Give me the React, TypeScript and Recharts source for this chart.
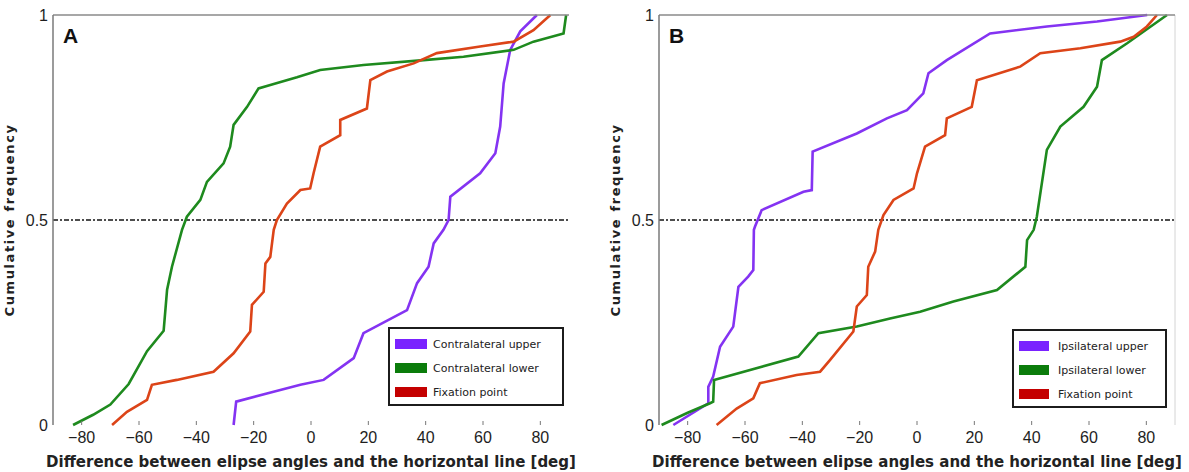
import React from "react";
import { LineChart, Line, XAxis, YAxis, ReferenceLine, Legend } from "recharts";

type Pt = [number, number];

const xTicks = [-80, -60, -40, -20, 0, 20, 40, 60, 80];
const yTicks = [0, 0.5, 1];

// panel A: contralateral stimuli
const contraNames = ["Contralateral upper", "Contralateral lower", "Fixation point"];
const contraUpper: Pt[] = [
  [-27, 0], [-26.1, 0.057], [-15.4, 0.077], [-3.7, 0.098], [4.4, 0.11], [14.9, 0.163],
  [18.3, 0.224], [33.5, 0.28], [37, 0.346], [41, 0.386], [42.8, 0.443], [46.2, 0.476],
  [48, 0.5], [48.6, 0.557], [59, 0.614], [64.3, 0.663], [66, 0.728], [67.2, 0.833],
  [69.5, 0.915], [73, 0.96], [78.8, 1],
];
const contraLower: Pt[] = [
  [-83, 0], [-76, 0.025], [-70, 0.05], [-63.6, 0.1], [-57.2, 0.18], [-51.4, 0.23],
  [-50.2, 0.33], [-48.5, 0.386], [-45, 0.476], [-43.3, 0.508], [-38.6, 0.549],
  [-36.3, 0.593], [-30.5, 0.638], [-28.2, 0.679], [-27, 0.732], [-22.3, 0.776],
  [-18.3, 0.821], [-15.4, 0.827], [-4.9, 0.848], [3.2, 0.866], [18.3, 0.878],
  [39.3, 0.89], [53.2, 0.898], [70.7, 0.915], [77.6, 0.935], [88.1, 0.955], [89, 1],
];
const contraFix: Pt[] = [
  [-69.4, 0], [-64.2, 0.032], [-57.2, 0.061], [-55.5, 0.098], [-46.8, 0.11], [-34, 0.13],
  [-27, 0.175], [-21.2, 0.228], [-20.6, 0.293], [-16.5, 0.325], [-15.9, 0.394],
  [-14.2, 0.41], [-13, 0.476], [-11.9, 0.5], [-8.4, 0.54], [-3.7, 0.573], [-0.3, 0.577],
  [0.9, 0.614], [3.2, 0.679], [10.2, 0.707], [10.2, 0.744], [19.5, 0.772], [20.7, 0.841],
  [26.5, 0.862], [35.8, 0.882], [43.9, 0.907], [59, 0.923], [70.7, 0.935], [77.6, 0.963],
  [83.5, 1],
];

// panel B: ipsilateral stimuli
const ipsiNames = ["Ipsilateral upper", "Ipsilateral lower", "Fixation point"];
const ipsiUpper: Pt[] = [
  [-85, 0], [-72.8, 0.053], [-72.8, 0.093], [-71.1, 0.118], [-68.7, 0.191], [-64.1, 0.24],
  [-62.3, 0.337], [-58.9, 0.362], [-57.1, 0.378], [-56.9, 0.476], [-56.5, 0.484],
  [-54.2, 0.524], [-39.6, 0.569], [-36.7, 0.573], [-36.4, 0.667], [-21, 0.711],
  [-10.5, 0.748], [-3.5, 0.768], [2.2, 0.809], [4, 0.858], [10.4, 0.89], [25.5, 0.955],
  [45.3, 0.972], [62.8, 0.984], [80.3, 1],
];
const ipsiLower: Pt[] = [
  [-89.1, 0], [-80, 0.03], [-72.2, 0.053], [-71.1, 0.057], [-70.8, 0.11], [-41.4, 0.167],
  [-34.4, 0.224], [-21, 0.24], [-9.4, 0.26], [1.1, 0.276], [12.7, 0.301], [27.9, 0.329],
  [37.8, 0.386], [38.4, 0.451], [40.7, 0.476], [41.8, 0.508], [45.3, 0.671], [50, 0.728],
  [58.1, 0.776], [62.8, 0.825], [64.5, 0.89], [73.3, 0.931], [87.2, 1],
];
const ipsiFix: Pt[] = [
  [-69.9, 0], [-62.9, 0.04], [-57.1, 0.065], [-54.8, 0.102], [-42, 0.122], [-33.8, 0.13],
  [-30.3, 0.159], [-22.2, 0.228], [-21, 0.289], [-17.5, 0.317], [-17, 0.386],
  [-14.6, 0.423], [-13.5, 0.476], [-11.7, 0.512], [-8.2, 0.549], [-1.2, 0.577],
  [0, 0.614], [2.8, 0.679], [9.8, 0.707], [10.4, 0.748], [19.1, 0.776], [20.9, 0.841],
  [36, 0.874], [43, 0.907], [57, 0.919], [70.9, 0.935], [75.6, 0.947], [80.2, 0.972],
  [83.7, 1],
];

const lineColors = ["#8433f2", "#1e8a1e", "#dc4418"];
const swatchColors = ["#7a22ff", "#0b7c0b", "#c40000"];

const tickFont = { fontFamily: "Liberation Sans", fontSize: 16, fill: "#1e1e1e" };
const titleFont = "DejaVu Sans";

const toRows = (pts: Pt[]) => pts.map(([x, y]) => ({ x, y }));
const fmtX = (v: number) => String(v).replace("-", "\u2212");

type PanelProps = {
  letter: string;
  names: string[];
  series: Pt[][];
  left: number;
  width: number;
  margin: { top: number; right: number; left: number; bottom: number };
  legendPos: { left: number; top: number; width: number; swatch: number; textGap: number };
  rightBorder?: boolean;
};

const Panel = ({ letter, names, series, left, width, margin, legendPos, rightBorder }: PanelProps) => {
  // legend rows keep the series order, not the sorted payload order
  const legendBox = () => (
    <div
      style={{
        boxSizing: "border-box",
        width: legendPos.width,
        border: "2px solid #1c1c1c",
        background: "#fff",
        padding: "3px 0 0 5px",
        fontFamily: titleFont,
        fontSize: 11,
        color: "#222",
      }}
    >
      {names.map((n, i) => (
        <div key={n} style={{ display: "flex", alignItems: "center", height: 24 }}>
          <span
            style={{
              display: "inline-block",
              width: legendPos.swatch,
              height: 10,
              background: swatchColors[i],
              marginRight: legendPos.textGap,
            }}
          />
          {n}
        </div>
      ))}
    </div>
  );

  return (
    <div style={{ position: "absolute", left, top: 0 }}>
      <LineChart width={width} height={472} margin={margin}>
        <XAxis
          xAxisId="top"
          orientation="top"
          type="number"
          dataKey="x"
          domain={[-90, 90]}
          ticks={xTicks}
          height={1}
          tick={false}
          tickSize={-5}
          stroke="#8a8a8a"
          strokeWidth={1.5}
          label={(p: any) => (
            <text
              x={p.viewBox.x + 10}
              y={p.viewBox.y + p.viewBox.height + 28}
              fontFamily="Liberation Sans"
              fontWeight="bold"
              fontSize={21}
              fill="#111"
            >
              {letter}
            </text>
          )}
        />
        <XAxis
          type="number"
          dataKey="x"
          domain={[-90, 90]}
          ticks={xTicks}
          height={47}
          axisLine={false}
          tickSize={-4}
          tickMargin={11}
          tickLine={{ stroke: "#777" }}
          tick={tickFont}
          tickFormatter={fmtX}
          label={(p: any) => (
            <text
              x={p.viewBox.x + p.viewBox.width / 2}
              y={p.viewBox.y + 37}
              textAnchor="middle"
              dominantBaseline="central"
              fontFamily={titleFont}
              fontWeight="bold"
              fontSize={15}
              fill="#222"
            >
              Difference between elipse angles and the horizontal line [deg]
            </text>
          )}
        />
        <YAxis
          type="number"
          domain={[0, 1]}
          ticks={yTicks}
          width={50}
          tickLine={false}
          tickSize={0}
          tickMargin={5}
          stroke="#7a7a7a"
          strokeWidth={1.5}
          tick={tickFont}
          label={(p: any) => {
            const cx = p.viewBox.x + 6;
            const cy = p.viewBox.y + p.viewBox.height / 2;
            return (
              <text
                x={cx}
                y={cy}
                transform={`rotate(-90 ${cx} ${cy})`}
                textAnchor="middle"
                dominantBaseline="central"
                fontFamily={titleFont}
                fontWeight="bold"
                fontSize={13}
                letterSpacing={1.6}
                fill="#222"
              >
                Cumulative frequency
              </text>
            );
          }}
        />
        <ReferenceLine y={0.5} stroke="#151515" strokeWidth={1.6} strokeDasharray="5 2 2 2" />
        {rightBorder && <ReferenceLine x={90} stroke="#d4d4d4" strokeWidth={1} />}
        {series.map((s, i) => (
          <Line
            key={names[i]}
            name={names[i]}
            data={toRows(s)}
            dataKey="y"
            type="linear"
            stroke={lineColors[i]}
            strokeWidth={2.6}
            dot={false}
            activeDot={false}
            isAnimationActive={false}
          />
        ))}
        <Legend
          layout="horizontal"
          align="center"
          verticalAlign="middle"
          content={legendBox}
          wrapperStyle={{ left: legendPos.left, top: legendPos.top, width: "auto", height: "auto" }}
        />
      </LineChart>
    </div>
  );
};

export default function App() {
  return (
    <div style={{ position: "absolute", left: 0, top: 0, width: 1189, height: 472, background: "#fff" }}>
      <Panel
        letter="A"
        names={contraNames}
        series={[contraUpper, contraLower, contraFix]}
        left={0}
        width={595}
        margin={{ top: 14, right: 26, left: 3, bottom: 0 }}
        legendPos={{ left: 388, top: 327, width: 176, swatch: 32, textGap: 6 }}
      />
      <Panel
        letter="B"
        names={ipsiNames}
        series={[ipsiUpper, ipsiLower, ipsiFix]}
        left={595}
        width={594}
        margin={{ top: 14, right: 14, left: 14, bottom: 0 }}
        legendPos={{ left: 417, top: 329, width: 155, swatch: 30, textGap: 9 }}
        rightBorder
      />
    </div>
  );
}
